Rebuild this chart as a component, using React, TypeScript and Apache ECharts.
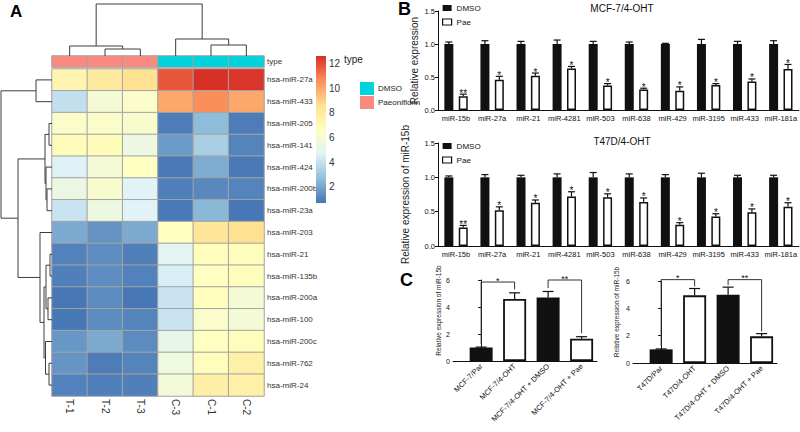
import React, { useEffect, useRef } from "react";
import * as echarts from "echarts";

// ---------------- Panel A data ----------------
const sampleCols = ["T-1", "T-2", "T-3", "C-3", "C-1", "C-2"];
const sampleType = [1, 1, 1, 0, 0, 0]; // 0 = DMSO, 1 = Paeoniflorin
const typeNames = ["DMSO", "Paeoniflorin"];
const mirRows = [
  "hsa-miR-27a", "hsa-miR-433", "hsa-miR-205", "hsa-miR-141", "hsa-miR-424",
  "hsa-miR-200b", "hsa-miR-23a", "hsa-miR-203", "hsa-miR-21", "hsa-miR-135b",
  "hsa-miR-200a", "hsa-miR-100", "hsa-miR-200c", "hsa-miR-762", "hsa-miR-24",
];
const expr27a = [7.3, 8.0, 8.6, 11.8, 12.6, 12.5];
const expr433 = [3.9, 5.9, 6.3, 10.0, 10.6, 10.0];
const expr205 = [6.3, 6.3, 6.2, 0.9, 2.6, 0.9];
const expr141 = [6.9, 6.9, 5.5, 1.7, 3.3, 1.1];
const expr424 = [4.6, 5.9, 6.6, 0.8, 2.2, 0.8];
const expr200b = [5.4, 6.2, 4.7, 1.0, 1.2, 1.1];
const expr23a = [4.1, 5.5, 4.7, 0.8, 2.5, 0.75];
const expr203 = [2.1, 1.5, 2.1, 6.6, 8.3, 8.6];
const expr21 = [1.05, 1.35, 1.0, 4.8, 6.8, 6.8];
const expr135b = [1.0, 1.35, 1.05, 4.5, 6.6, 6.8];
const expr200a = [0.75, 1.3, 0.75, 4.1, 6.7, 5.9];
const expr100 = [0.75, 1.3, 1.1, 4.1, 6.3, 5.9];
const expr200c = [1.6, 2.1, 1.3, 5.2, 6.6, 6.8];
const expr762 = [1.55, 0.9, 1.1, 5.6, 6.8, 7.6];
const expr24 = [1.05, 1.0, 1.0, 5.8, 7.7, 7.6];
const exprRows = [
  expr27a, expr433, expr205, expr141, expr424, expr200b, expr23a, expr203,
  expr21, expr135b, expr200a, expr100, expr200c, expr762, expr24,
];
const heatMin = 0.7;
const heatMax = 12.6;
const colorTicks = [2, 4, 6, 8, 10, 12];
// dendrogram merges: [nodeA, nodeB, height]; leaves are 0..n-1, new nodes n, n+1, ...
const colMerges = [[1, 2, 7], [0, 6, 10], [4, 5, 11], [3, 8, 17], [7, 9, 52]];
const rowMerges = [
  [0, 1, 16], [2, 3, 3], [5, 6, 5], [4, 17, 6], [16, 18, 7],
  [8, 9, 2], [10, 11, 4], [20, 21, 6], [13, 14, 3], [12, 23, 6.5],
  [22, 24, 8], [7, 25, 12], [19, 26, 34], [15, 27, 51],
];

// ---------------- Panel B data ----------------
const bMirs = ["miR-15b", "miR-27a", "miR-21", "miR-4281", "miR-503", "miR-638", "miR-429", "miR-3195", "miR-433", "miR-181a"];
const mcfDmso = [1, 1, 1, 1, 1, 1, 1, 1, 1, 1];
const mcfDmsoErr = [0.03, 0.05, 0.04, 0.06, 0.04, 0.03, 0.01, 0.07, 0.04, 0.05];
const mcfPae = [0.21, 0.46, 0.52, 0.63, 0.37, 0.31, 0.29, 0.38, 0.43, 0.62];
const mcfPaeErr = [0.03, 0.05, 0.04, 0.03, 0.03, 0.02, 0.06, 0.02, 0.04, 0.07];
const mcfStars = ["**", "*", "*", "*", "*", "*", "*", "*", "*", "*"];
const t47Dmso = [1, 1, 1, 1, 1, 1, 1, 1, 1, 1];
const t47DmsoErr = [0.02, 0.04, 0.03, 0.05, 0.07, 0.05, 0.04, 0.06, 0.03, 0.03];
const t47Pae = [0.27, 0.52, 0.63, 0.72, 0.71, 0.64, 0.31, 0.43, 0.49, 0.57];
const t47PaeErr = [0.03, 0.05, 0.04, 0.07, 0.05, 0.06, 0.03, 0.04, 0.05, 0.06];
const t47Stars = ["**", "*", "*", "*", "*", "*", "*", "*", "*", "*"];
const bTicks = [0, 0.5, 1.0, 1.5];

// ---------------- Panel C data ----------------
const cMcfGroups = ["MCF-7/Par", "MCF-7/4-OHT", "MCF-7/4-OHT + DMSO", "MCF-7/4-OHT + Pae"];
const cMcfVals = [1.0, 4.6, 4.7, 1.65];
const cMcfErr = [0.03, 0.45, 0.45, 0.15];
const cMcfBrackets = [[0, 1, 5.85, 1.25, 5.3, "*"], [2, 3, 6.0, 5.4, 2.05, "**"]];
const cT47Groups = ["T47D/Par", "T47D/4-OHT", "T47D/4-OHT + DMSO", "T47D/4-OHT + Pae"];
const cT47Vals = [1.0, 4.95, 5.0, 1.95];
const cT47Err = [0.03, 0.5, 0.55, 0.2];
const cT47Brackets = [[0, 1, 6.1, 1.25, 5.6, "*"], [2, 3, 6.1, 5.7, 2.3, "**"]];
const cGroupIsPae = [false, true, false, true];

// ---------------- styles ----------------
const FONT = "'Liberation Sans', Arial, Helvetica, sans-serif";
const INK = "#111";
const PAL = ["#4575B4", "#91BFDB", "#E0F3F8", "#FFFFBF", "#FEE090", "#FC8D59", "#D73027"];
const CYAN = "#00d3dc";
const SALMON = "#fa8a80";
const BAR_W = 9;
const BAR_GAP = 0.6;
const OFF = (BAR_W + BAR_W * BAR_GAP) / 2;

function dendroLines(n: number, merges: number[][]) {
  const pos: number[] = [];
  const h: number[] = [];
  for (let i = 0; i < n; i++) { pos.push(i + 0.5); h.push(0); }
  const lines: number[][][] = [];
  merges.forEach(([a, b, hh]) => {
    lines.push([[pos[a], h[a]], [pos[a], hh], [pos[b], hh], [pos[b], h[b]]]);
    pos.push((pos[a] + pos[b]) / 2);
    h.push(hh);
  });
  return lines;
}

function dendroSeries(idx: number, lines: number[][][], swap: boolean) {
  return {
    type: "custom", xAxisIndex: idx, yAxisIndex: idx, silent: true,
    data: lines.map((_, i) => [0, 0, i]),
    renderItem: (params: any, api: any) => {
      const l = lines[params.dataIndex];
      return {
        type: "polyline",
        shape: { points: l.map((p) => api.coord(swap ? [p[1], p[0]] : p)) },
        style: { stroke: "#3c3c3c", lineWidth: 1, fill: null },
      };
    },
  };
}

function errSeries(idx: number, vals: number[], errs: number[], stars: string[] | null, offset: number, capHalf: number, starSize: number) {
  return {
    type: "custom", xAxisIndex: idx, yAxisIndex: idx, silent: true, z: 5,
    data: vals.map((v, i) => [i, v, errs[i]]),
    encode: { x: 0, y: 1 },
    renderItem: (params: any, api: any) => {
      const i = api.value(0), v = api.value(1), e = api.value(2);
      const b = api.coord([i, v]);
      const t = api.coord([i, v + e]);
      const x = b[0] + offset;
      const children: any[] = [
        { type: "line", shape: { x1: x, y1: b[1], x2: x, y2: t[1] }, style: { stroke: INK, lineWidth: 1.2 } },
        { type: "line", shape: { x1: x - capHalf, y1: t[1], x2: x + capHalf, y2: t[1] }, style: { stroke: INK, lineWidth: 1.2 } },
      ];
      if (stars) {
        children.push({
          type: "text", x, y: t[1] + 4,
          style: { text: stars[params.dataIndex], fontSize: starSize, align: "center", verticalAlign: "bottom", fill: INK, stroke: null, fontFamily: FONT },
        });
      }
      return { type: "group", children };
    },
  };
}

function bracketSeries(idx: number, brackets: any[][]) {
  return {
    type: "custom", xAxisIndex: idx, yAxisIndex: idx, silent: true, z: 6,
    data: brackets.map((b) => [b[0], b[2]]),
    renderItem: (params: any, api: any) => {
      const [a, b, top, lb, rb, label] = brackets[params.dataIndex];
      const p1 = api.coord([a, lb]), p2 = api.coord([a, top]), p3 = api.coord([b, top]), p4 = api.coord([b, rb]);
      return {
        type: "group",
        children: [
          { type: "polyline", shape: { points: [p1, p2, p3, p4] }, style: { stroke: "#333", lineWidth: 1, fill: null } },
          { type: "text", x: (p2[0] + p3[0]) / 2, y: p2[1] + 3, style: { text: label, fontSize: 9, align: "center", verticalAlign: "bottom", fill: INK, stroke: null, fontFamily: FONT } },
        ],
      };
    },
  };
}

function buildOption() {
  const heatData: number[][] = [];
  exprRows.forEach((row, r) => row.forEach((v, c) => heatData.push([c, r, v])));
  const colLines = dendroLines(sampleCols.length, colMerges);
  const rowLines = dendroLines(mirRows.length, rowMerges);

  const hidden = (min: number, max: number, inverse = false) => ({
    type: "value", min, max, inverse, show: false, splitLine: { show: false },
  });

  const bX = (idx: number) => ({
    type: "category", gridIndex: idx, data: bMirs,
    axisLine: { lineStyle: { color: INK, width: 1 } },
    axisTick: { alignWithLabel: true, length: 3, lineStyle: { color: INK } },
    axisLabel: { fontSize: 7.5, color: INK, margin: 4, interval: 0 },
  });
  const bY = (idx: number, name: string, gap: number) => ({
    type: "value", gridIndex: idx, min: 0, max: 1.5, interval: 0.5,
    axisLine: { show: true, lineStyle: { color: INK, width: 1 } },
    axisTick: { show: true, length: 3, lineStyle: { color: INK } },
    axisLabel: { fontSize: 7.5, color: INK, margin: 3, formatter: (v: number) => v.toFixed(1), customValues: bTicks },
    splitLine: { show: false },
    name, nameLocation: "middle", nameGap: gap,
    nameTextStyle: { fontSize: 10, color: "#222" },
  });
  const cX = (idx: number, groups: string[]) => ({
    type: "value", gridIndex: idx, min: -0.84, max: 3.46,
    axisLine: { show: true, lineStyle: { color: INK, width: 1 } },
    axisTick: { show: false },
    splitLine: { show: false },
    axisLabel: {
      customValues: [0, 1, 2, 3], rotate: 45, fontSize: 7.5, color: INK, margin: 4,
      formatter: (v: number) => groups[Math.round(v)] ?? "",
    },
  });
  const cY = (idx: number, gap: number) => ({
    type: "value", gridIndex: idx, min: 0, max: 6, interval: 2,
    axisLine: { show: true, lineStyle: { color: INK, width: 1 } },
    axisTick: { show: true, length: 3, lineStyle: { color: INK } },
    axisLabel: { fontSize: 7, color: INK, margin: 3 },
    splitLine: { show: false },
    name: "Relative expression of miR-15b", nameLocation: "middle", nameGap: gap,
    nameTextStyle: { fontSize: 6.5, color: "#222", padding: [0, 0, 0, 20] },
  });
  const cBars = (idx: number, vals: number[]) => ({
    type: "bar", xAxisIndex: idx, yAxisIndex: idx, barWidth: 23, silent: true,
    data: vals.map((v, i) => ({
      value: [i, v],
      itemStyle: cGroupIsPae[i]
        ? { color: "#fff", borderColor: INK, borderWidth: 1.8 }
        : { color: INK },
    })),
  });

  const bLegend = (top: number) => ({
    left: 442, top, orient: "vertical", itemWidth: 9, itemHeight: 6, itemGap: 6,
    icon: "rect", data: ["DMSO", "Pae"], selectedMode: false,
    textStyle: { fontSize: 8, color: INK }, padding: 0, itemStyle: { borderWidth: 1.2 },
  });

  return {
    animation: false,
    backgroundColor: "#fff",
    textStyle: { fontFamily: FONT },
    grid: [
      { left: 52, top: 69, width: 212, height: 327 },   // 0 heatmap
      { left: 52, top: 56, width: 212, height: 11 },    // 1 annotation
      { left: 52, top: 4, width: 212, height: 52 },     // 2 top dendro
      { left: 1, top: 69, width: 51, height: 327 },     // 3 left dendro
      { left: 316, top: 56, width: 10, height: 147 },   // 4 colorbar
      { left: 438, top: 11, width: 362, height: 99 },   // 5 B top
      { left: 438, top: 143, width: 362, height: 103 }, // 6 B bottom
      { left: 453, top: 280, width: 144, height: 81 },  // 7 C left
      { left: 633, top: 281, width: 144, height: 82 },  // 8 C right
    ],
    xAxis: [
      {
        type: "category", gridIndex: 0, data: sampleCols, position: "bottom",
        axisLine: { show: false }, axisTick: { show: false },
        axisLabel: { rotate: -90, fontSize: 10, color: "#333", margin: 3 },
      },
      { type: "category", gridIndex: 1, data: sampleCols, show: false },
      { ...hidden(0, sampleCols.length), gridIndex: 2 },
      { ...hidden(0, 51, true), gridIndex: 3 },
      { ...hidden(0, 1), gridIndex: 4 },
      bX(5),
      bX(6),
      cX(7, cMcfGroups),
      cX(8, cT47Groups),
    ],
    yAxis: [
      {
        type: "category", gridIndex: 0, data: mirRows, inverse: true, position: "right",
        axisLine: { show: false }, axisTick: { show: false },
        axisLabel: { fontSize: 8, color: "#333", margin: 3 },
      },
      {
        type: "category", gridIndex: 1, data: ["type"], position: "right",
        axisLine: { show: false }, axisTick: { show: false },
        axisLabel: { fontSize: 8, color: "#333", margin: 3 },
      },
      { ...hidden(0, 52), gridIndex: 2 },
      { ...hidden(0, mirRows.length, true), gridIndex: 3 },
      {
        type: "value", gridIndex: 4, min: heatMin, max: heatMax, position: "right",
        axisLine: { show: false }, axisTick: { show: false }, splitLine: { show: false },
        axisLabel: { customValues: colorTicks, fontSize: 10, color: "#333", margin: 3 },
      },
      bY(5, "Relative expression", 19),
      bY(6, "Relative expression of miR-15b", 28),
      cY(7, 8),
      cY(8, 13),
    ],
    visualMap: [
      {
        type: "continuous", seriesIndex: 0, min: heatMin, max: heatMax, show: false,
        inRange: { color: PAL },
      },
      {
        type: "piecewise", seriesIndex: 1, left: 345, top: 67, orient: "vertical", inverse: true,
        itemWidth: 14, itemHeight: 13, itemGap: 1, itemSymbol: "rect", align: "left", textGap: 4,
        selectedMode: false,
        pieces: typeNames.map((n, i) => ({ value: i, label: n, color: i === 0 ? CYAN : SALMON })),
        textStyle: { fontSize: 8, color: "#222" },
      },
    ],
    legend: [bLegend(4), bLegend(142)],
    graphic: [
      { type: "text", left: 10, top: 3, style: { text: "A", fontSize: 17, fontWeight: "bold", fill: "#000", fontFamily: FONT } },
      { type: "text", left: 398, top: 0, style: { text: "B", fontSize: 18, fontWeight: "bold", fill: "#000", fontFamily: FONT } },
      { type: "text", left: 400, top: 271, style: { text: "C", fontSize: 18, fontWeight: "bold", fill: "#000", fontFamily: FONT } },
      { type: "text", x: 622, y: 3, style: { text: "MCF-7/4-OHT", fontSize: 10, align: "center", fill: INK, fontFamily: FONT } },
      { type: "text", x: 622, y: 136, style: { text: "T47D/4-OHT", fontSize: 10, align: "center", fill: INK, fontFamily: FONT } },
      { type: "text", left: 344, top: 54, style: { text: "type", fontSize: 10, fill: "#222", fontFamily: FONT } },
    ],
    series: [
      {
        type: "heatmap", xAxisIndex: 0, yAxisIndex: 0, data: heatData, silent: true,
        itemStyle: { borderColor: "#a3a3a3", borderWidth: 1 },
      },
      {
        type: "heatmap", xAxisIndex: 1, yAxisIndex: 1, silent: true,
        data: sampleType.map((t, i) => [i, 0, t]),
        itemStyle: { borderColor: "#a3a3a3", borderWidth: 1 },
      },
      dendroSeries(2, colLines, false),
      dendroSeries(3, rowLines, true),
      {
        type: "custom", xAxisIndex: 4, yAxisIndex: 4, silent: true,
        data: [[0, heatMin]],
        renderItem: (_p: any, api: any) => {
          const a = api.coord([0, heatMax]);
          const b = api.coord([1, heatMin]);
          const stops = PAL.slice().reverse().map((c, i) => ({ offset: i / (PAL.length - 1), color: c }));
          return {
            type: "rect",
            shape: { x: a[0], y: a[1], width: b[0] - a[0], height: b[1] - a[1] },
            style: { fill: new echarts.graphic.LinearGradient(0, 0, 0, 1, stops) },
          };
        },
      },
      // B top
      { type: "bar", name: "DMSO", xAxisIndex: 5, yAxisIndex: 5, data: mcfDmso, barWidth: BAR_W, barGap: `${BAR_GAP * 100}%`, itemStyle: { color: INK }, silent: true },
      { type: "bar", name: "Pae", xAxisIndex: 5, yAxisIndex: 5, data: mcfPae, barWidth: BAR_W, itemStyle: { color: "#fff", borderColor: INK, borderWidth: 1.5 }, silent: true },
      errSeries(5, mcfDmso, mcfDmsoErr, null, -OFF, 3.5, 10),
      errSeries(5, mcfPae, mcfPaeErr, mcfStars, OFF, 3.5, 10),
      // B bottom
      { type: "bar", name: "DMSO", xAxisIndex: 6, yAxisIndex: 6, data: t47Dmso, barWidth: BAR_W, barGap: `${BAR_GAP * 100}%`, itemStyle: { color: INK }, silent: true },
      { type: "bar", name: "Pae", xAxisIndex: 6, yAxisIndex: 6, data: t47Pae, barWidth: BAR_W, itemStyle: { color: "#fff", borderColor: INK, borderWidth: 1.5 }, silent: true },
      errSeries(6, t47Dmso, t47DmsoErr, null, -OFF, 3.5, 10),
      errSeries(6, t47Pae, t47PaeErr, t47Stars, OFF, 3.5, 10),
      // C
      cBars(7, cMcfVals),
      errSeries(7, cMcfVals, cMcfErr, null, 0, 5.5, 8),
      bracketSeries(7, cMcfBrackets),
      cBars(8, cT47Vals),
      errSeries(8, cT47Vals, cT47Err, null, 0, 5.5, 8),
      bracketSeries(8, cT47Brackets),
    ],
  };
}

export default function App() {
  const ref = useRef<HTMLDivElement>(null);
  useEffect(() => {
    const chart = echarts.init(ref.current!, null, { renderer: "svg" });
    chart.setOption(buildOption() as any);
    return () => chart.dispose();
  }, []);
  return (
    <div
      ref={ref}
      style={{ position: "absolute", left: 0, top: 0, width: 800, height: 432, background: "#fff" }}
    />
  );
}
